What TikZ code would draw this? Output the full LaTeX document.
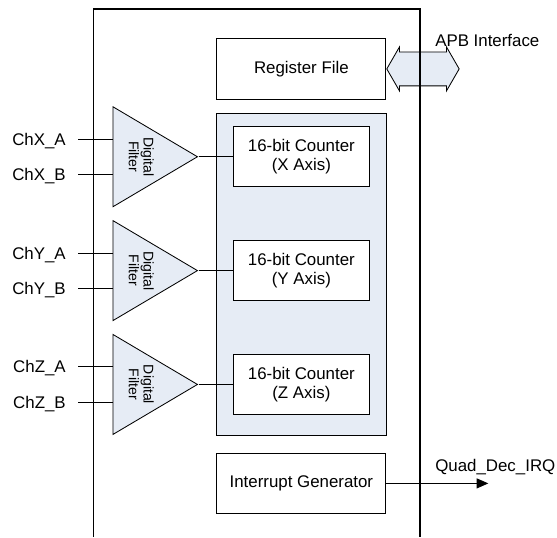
\documentclass[tikz,border=0pt]{standalone}
\usepackage{fontspec}
\setmainfont{Liberation Sans}
\usepackage{xcolor}
\usepackage{tikz}
\usetikzlibrary{positioning,shapes.geometric,shapes.arrows,arrows.meta,calc}
\definecolor{qdblue}{HTML}{E6ECF5}

\begin{document}
\begin{tikzpicture}[
    every node/.style={font=\fontsize{12}{13.5}\selectfont},
    box/.style={draw, minimum width=4.225cm, minimum height=1.52cm,
                align=center, fill=white, line width=0.6pt},
    cnt/.style={box, minimum width=3.4cm, minimum height=1.5cm},
    bank/.style={draw, fill=qdblue, minimum width=4.23cm, minimum height=8.04cm, line width=0.6pt},
    filt/.style={draw, fill=qdblue, isosceles triangle, isosceles triangle stretches,
                 minimum width=2.5cm, minimum height=2.1125cm, inner sep=0pt, line width=0.6pt},
    filtlbl/.style={rotate=-90, align=center, inner sep=0pt, font=\fontsize{10}{10.5}\selectfont},
    inlbl/.style={anchor=east, inner xsep=0.3cm, inner ysep=0pt, text height=8.6pt, text depth=0pt},
    lbl/.style={inner sep=0pt},
    apbarrow/.style={draw, fill=qdblue, double arrow, minimum height=1.81cm, minimum width=1.075cm,
                     double arrow head extend=0.125cm, double arrow tip angle=120,
                     inner xsep=0pt, inner ysep=0.4125cm, line width=0.6pt},
    frame/.style={line width=1pt},
    line/.style={line width=0.6pt},
    arr/.style={line, -{Triangle[length=0.29cm, width=0.25cm]}},
]
    \useasboundingbox (0,0) rectangle (13.925,13.425);

    % outer block, open at the bottom
    \coordinate (fbl) at (2.333,0);
    \coordinate (ftr) at (10.5,13.2);
    \coordinate (fbr) at (10.5,0);

    \node[bank] (bank) at (7.534,6.571) {};
    \node[box, above=0.33cm of bank] (reg) {Register File};
    \node[box, below=0.43cm of bank] (irq) {Interrupt Generator};

    \node[cnt, below=0.335cm of bank.north] (cx) {16-bit Counter\\(X Axis)};
    \node[cnt, below=1.325cm of cx] (cy) {16-bit Counter\\(Y Axis)};
    \node[cnt, below=1.325cm of cy] (cz) {16-bit Counter\\(Z Axis)};

    \node[filt, left=0.86cm of cx] (fx) {};
    \node[filt, left=0.86cm of cy] (fy) {};
    \node[filt, left=0.86cm of cz] (fz) {};

    \node[filtlbl] (fxl) at ($(fx.apex)!2/3!(fx.west)$) {Digital\\Filter};
    \node[filtlbl] (fyl) at ($(fy.apex)!2/3!(fy.west)$) {Digital\\Filter};
    \node[filtlbl] (fzl) at ($(fz.apex)!2/3!(fz.west)$) {Digital\\Filter};

    % channel inputs
    \node[inlbl, left=0.8625cm of fx.west, yshift=0.44cm] (xa) {ChX\_A};
    \node[inlbl, left=0.8625cm of fx.west, yshift=-0.44cm] (xb) {ChX\_B};
    \node[inlbl, left=0.8625cm of fy.west, yshift=0.44cm] (ya) {ChY\_A};
    \node[inlbl, left=0.8625cm of fy.west, yshift=-0.44cm] (yb) {ChY\_B};
    \node[inlbl, left=0.8625cm of fz.west, yshift=0.44cm] (za) {ChZ\_A};
    \node[inlbl, left=0.8625cm of fz.west, yshift=-0.44cm] (zb) {ChZ\_B};

    \node[apbarrow, right=0pt of reg] (apb) {};
    \node[lbl, anchor=west] (apbl) at (10.875,12.42) {APB Interface};

    \coordinate[right=2.55cm of irq.east] (irqout);
    \node[lbl, anchor=west] (irql) at (10.875,1.76) {Quad\_Dec\_IRQ};

    \draw[frame] (fbl) |- (ftr) -- (fbr);

    \foreach \n/\f in {xa/fx, xb/fx, ya/fy, yb/fy, za/fz, zb/fz}
        \draw[line] (\n.east) -- (\n.east -| \f.west);

    \draw[line] (fx.apex) -- (cx.west);
    \draw[line] (fy.apex) -- (cy.west);
    \draw[line] (fz.apex) -- (cz.west);

    \draw[arr] (irq.east) -- (irqout);
\end{tikzpicture}
\end{document}
